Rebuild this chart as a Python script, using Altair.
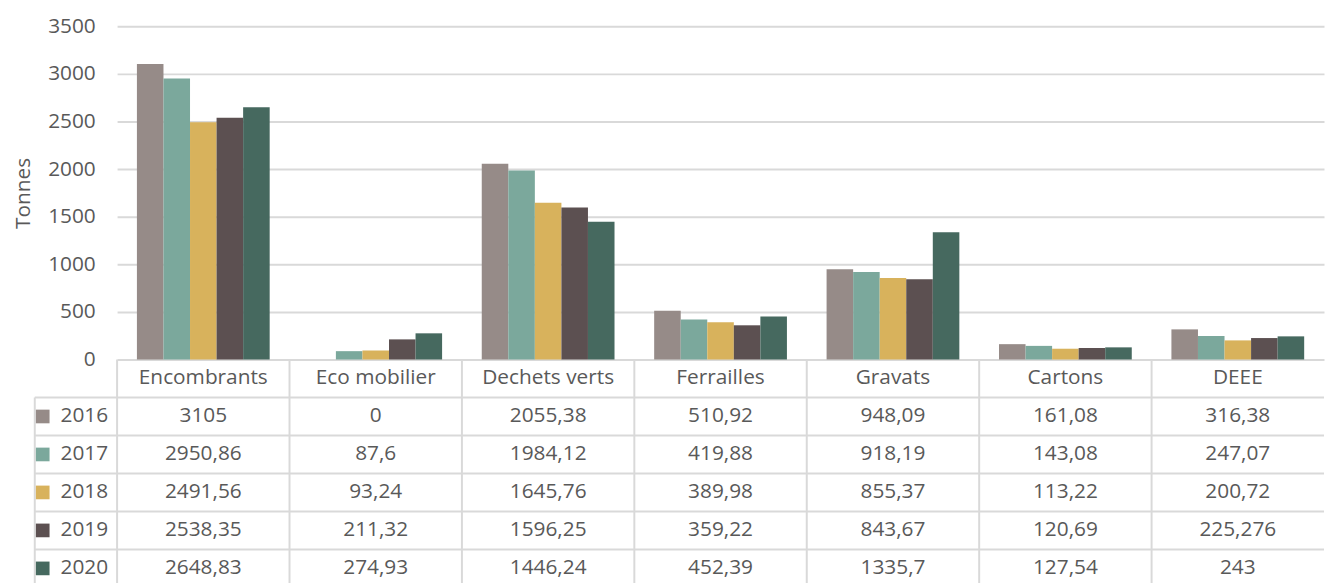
import altair as alt
import pandas as pd

categories = ["Encombrants", "Eco mobilier", "Dechets verts", "Ferrailles", "Gravats", "Cartons", "DEEE"]
years = ["2016", "2017", "2018", "2019", "2020"]
v2016 = [3105, 0, 2055.38, 510.92, 948.09, 161.08, 316.38]
v2017 = [2950.86, 87.6, 1984.12, 419.88, 918.19, 143.08, 247.07]
v2018 = [2491.56, 93.24, 1645.76, 389.98, 855.37, 113.22, 200.72]
v2019 = [2538.35, 211.32, 1596.25, 359.22, 843.67, 120.69, 225.276]
v2020 = [2648.83, 274.93, 1446.24, 452.39, 1335.7, 127.54, 243]
colors = ["#968b88", "#7ba89c", "#d8b25c", "#5c5051", "#46695f"]
y_ticks = [0, 500, 1000, 1500, 2000, 2500, 3000, 3500]

series = dict(zip(years, [v2016, v2017, v2018, v2019, v2020]))
recs = []
for yr in years:
    for c, v in zip(categories, series[yr]):
        recs.append({"cat": c, "year": yr, "row": yr, "value": v,
                     "label": f"{v:g}".replace(".", ",")})
df = pd.DataFrame(recs)
cat_df = pd.DataFrame({"cat": categories, "row": ["hdr"] * len(categories)})
year_df = pd.DataFrame({"row": years})

W = 1217
H_BAR = 336
ROW = 38.3
table_rows = ["hdr"] + years
H_TAB = ROW * len(table_rows)
LEFT_LINE = -83

FONT = "Open Sans"
FS = 21
TXT = "#595959"
GRID = "#d9d9d9"

color_scale = alt.Scale(domain=years, range=colors)

bars = alt.Chart(df).mark_bar().encode(
    x=alt.X("cat:N", sort=categories, axis=None,
            scale=alt.Scale(paddingInner=0.23, paddingOuter=0.115)),
    xOffset=alt.XOffset("year:N", sort=years,
                        scale=alt.Scale(paddingInner=0, paddingOuter=0)),
    y=alt.Y("value:Q", scale=alt.Scale(domain=[0, 3500], nice=False),
            axis=alt.Axis(values=y_ticks, format="d", title="Tonnes", ticks=False, domain=False,
                          labelFont=FONT, labelFontSize=FS, labelColor=TXT, labelPadding=22,
                          titleFont=FONT, titleFontSize=FS, titleColor=TXT,
                          titleFontWeight="normal", titlePadding=14,
                          gridColor=GRID, gridWidth=2)),
    color=alt.Color("year:N", scale=color_scale, legend=None),
).properties(width=W, height=H_BAR)

xt = alt.X("cat:N", sort=categories, axis=None,
           scale=alt.Scale(domain=categories, paddingInner=0, paddingOuter=0))
yt = alt.Y("row:N", sort=table_rows, axis=None,
           scale=alt.Scale(domain=table_rows, paddingInner=0, paddingOuter=0))

header_text = alt.Chart(cat_df).mark_text(font=FONT, fontSize=FS, color=TXT).encode(
    x=xt, y=yt, text="cat:N")
value_text = alt.Chart(df).mark_text(font=FONT, fontSize=FS, color=TXT).encode(
    x=xt, y=yt, text="label:N")

vlines = alt.Chart(cat_df).mark_rule(color=GRID, strokeWidth=2).encode(
    x=alt.X("cat:N", sort=categories, bandPosition=0, axis=None,
            scale=alt.Scale(domain=categories, paddingInner=0, paddingOuter=0)),
    y=alt.value(0), y2=alt.value(H_TAB))
hlines = alt.Chart(year_df).mark_rule(color=GRID, strokeWidth=2).encode(
    y=alt.Y("row:N", sort=table_rows, bandPosition=0, axis=None,
            scale=alt.Scale(domain=table_rows, paddingInner=0, paddingOuter=0)),
    x=alt.value(LEFT_LINE), x2=alt.value(W))
left_line = alt.Chart(year_df.head(1)).mark_rule(color=GRID, strokeWidth=2).encode(
    y=alt.Y("row:N", sort=table_rows, bandPosition=0, axis=None,
            scale=alt.Scale(domain=table_rows, paddingInner=0, paddingOuter=0)),
    y2=alt.value(H_TAB), x=alt.value(LEFT_LINE))
squares = alt.Chart(year_df).mark_square(size=190, opacity=1).encode(
    x=alt.value(-75), y=yt,
    color=alt.Color("row:N", scale=color_scale, legend=None))
year_text = alt.Chart(year_df).mark_text(font=FONT, fontSize=FS, color=TXT, align="left").encode(
    x=alt.value(-57), y=yt, text="row:N")

table = alt.layer(vlines, hlines, left_line, header_text, value_text, squares, year_text
                  ).properties(width=W, height=H_TAB)

chart = alt.vconcat(bars, table, spacing=0, bounds="flush").resolve_scale(
    x="independent", y="independent", color="independent"
).properties(
    padding={"left": 4, "top": 5, "right": 0, "bottom": 0}
).configure_view(stroke=None)

chart.save("out.html", embed_options={"renderer": "svg", "actions": False})
